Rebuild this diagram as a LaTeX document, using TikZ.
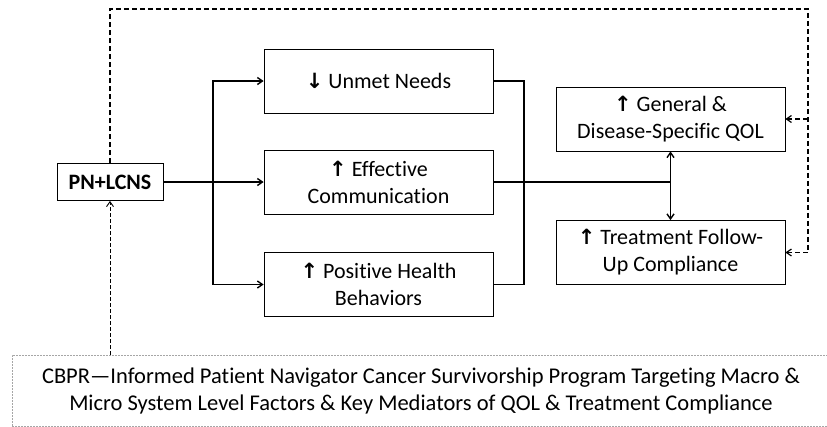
\documentclass[tikz,border=0pt]{standalone}
\usepackage{fontspec}
\setmainfont{Carlito}[Ligatures=NoCommon]
\newfontfamily\arrowfont{DejaVu Sans}
\usetikzlibrary{arrows.meta}
\newcommand{\uparr}{{\arrowfont\bfseries\fontsize{21}{27}\selectfont ↑}}
\newcommand{\downarr}{{\arrowfont\bfseries\fontsize{21}{27}\selectfont ↓}}
\begin{document}
\begin{tikzpicture}[x=1pt,y=-1pt,
		box/.style={draw,line width=0.8pt,minimum width=229pt,minimum height=64pt,
			align=center,inner sep=0pt,font=\fontsize{22}{27}\selectfont},
		link/.style={line width=1.4pt},
		loop/.style={line width=1.2pt,dash pattern=on 5pt off 3pt},
		>={Straight Barb[length=5pt,width=7pt]}]
		\useasboundingbox (0,0) rectangle (827,426);
		% middle column
		\node[box] (unmet) at (378.5,81) {\downarr\ Unmet Needs};
		\node[box] (comm) at (378.5,182) {\uparr\ Effective\\Communication};
		\node[box] (behav) at (378.5,284.5) {\uparr\ Positive Health\\Behaviors};
		% outcomes
		\node[box] (qol) at (670.5,119) {\uparr\ General \&\\Disease-Specific QOL};
		\node[box] (comply) at (670.5,252.5) {\uparr\ Treatment Follow-\\Up Compliance};
		% program
		\node[draw,line width=0.8pt,minimum width=106pt,minimum height=37pt,inner sep=0pt,
			font=\fontsize{22}{26}\selectfont\bfseries] (pn) at (110,182) {PN+LCNS};
		\node[draw=gray!70,line width=0.6pt,dash pattern=on 2pt off 1pt,minimum width=818pt,
			minimum height=71pt,inner sep=0pt,align=center,font=\fontsize{22.5}{27}\selectfont]
			(cbpr) at (421,390.5) {CBPR—Informed Patient Navigator Cancer Survivorship Program Targeting Macro \&\\
			Micro System Level Factors \& Key Mediators of QOL \& Treatment Compliance};
		% branches out of the program
		\coordinate (split) at (213,182);
		\draw[link,->] (pn) -- (comm);
		\draw[link,->] (split) |- (unmet);
		\draw[link,->] (split) |- (behav);
		% merging into the outcomes
		\coordinate (merge) at (524,284.5);
		\coordinate (hub) at (670.5,182);
		\draw[link] (unmet) -| (merge) -- (behav);
		\draw[link] (comm) -- (hub);
		\draw[link,<->] (qol) -- (comply);
		% feedback loop
		\coordinate (nw) at (110,9);
		\coordinate (ne) at (808,9);
		\coordinate (se) at (808,252.5);
		\draw[loop] (pn) -- (nw) -- (ne) -- (se);
		\draw[loop,->] (ne |- qol) -- (qol);
		\draw[loop,->] (se) -- (comply);
		\draw[line width=0.9pt,dash pattern=on 4pt off 2pt,->] (cbpr.north -| pn) -- (pn);
	\end{tikzpicture}
\end{document}
